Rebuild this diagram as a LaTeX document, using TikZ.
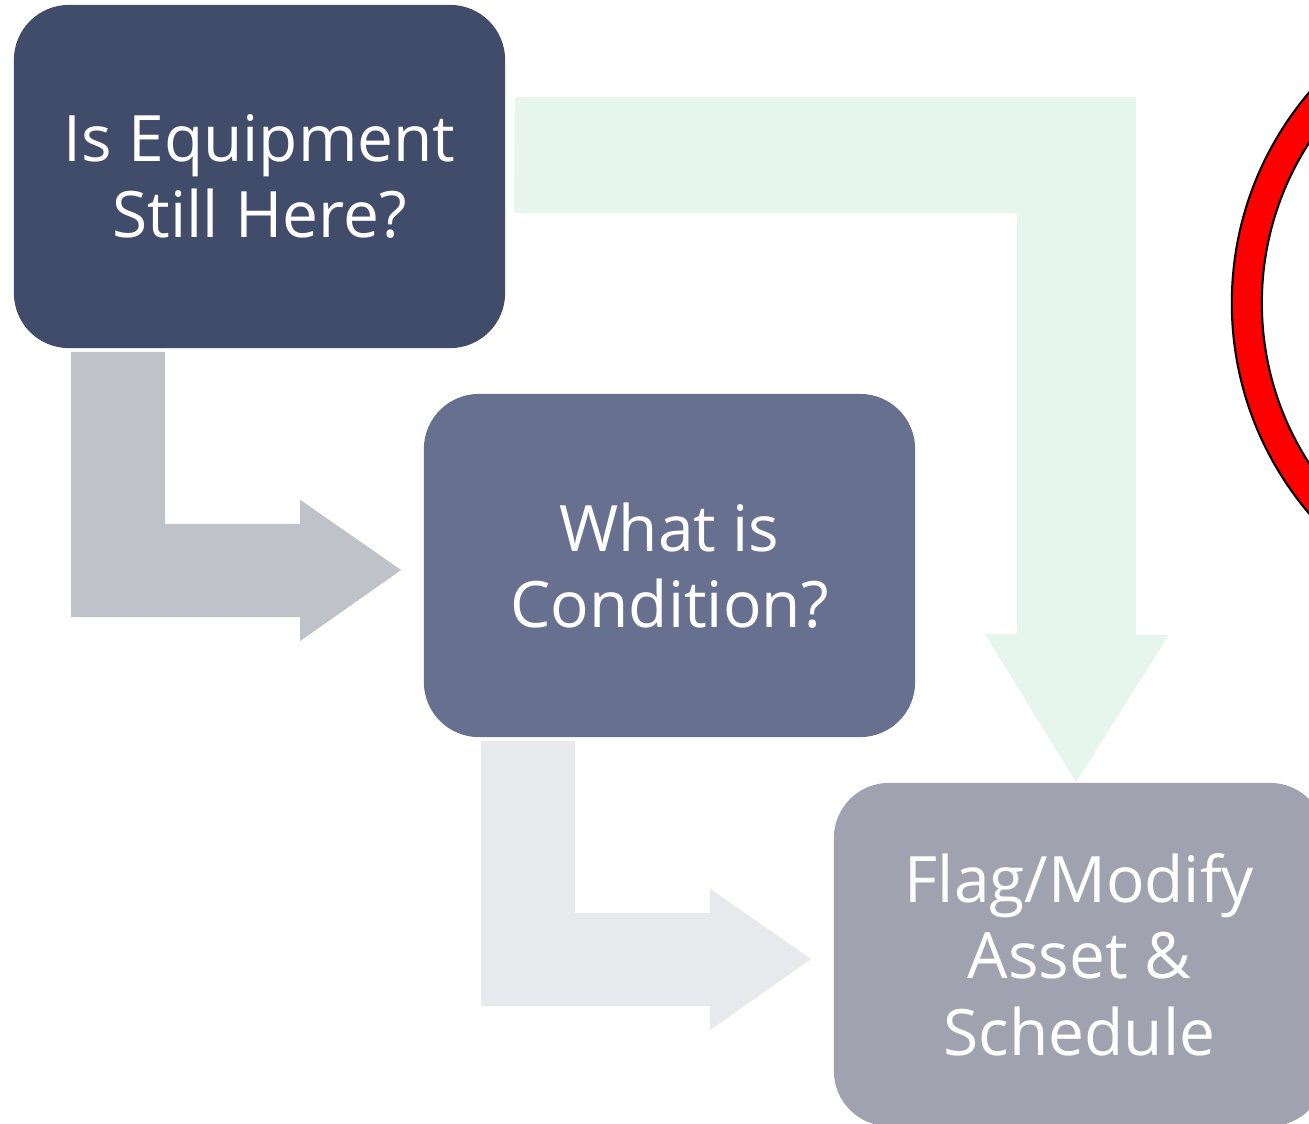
\documentclass[tikz,border=0pt]{standalone}
\usepackage{fontspec}
\setmainfont{Open Sans}
\usetikzlibrary{calc,positioning}
\definecolor{NavyDeep}{HTML}{414B6A}
\definecolor{NavyMid}{HTML}{67718F}
\definecolor{NavyPale}{HTML}{A0A3AF}
\definecolor{ArrowGrey}{HTML}{BFC2C8}
\definecolor{ArrowLight}{HTML}{E8E9EC}
\definecolor{ArrowMint}{HTML}{E6F6EF}
\definecolor{StopRed}{HTML}{FF0000}

\begin{document}
\begin{tikzpicture}[
    x=0.01cm, y=-0.01cm,
    qbox/.style={rounded corners=0.55cm, minimum width=4.91cm, minimum height=3.43cm, align=center, text=white, font=\fontsize{18.2}{21.8}\selectfont, inner sep=0pt},
    bent/.style={draw=none}
  ]
    \useasboundingbox (0,0) rectangle (1309,1123);
    \clip (0,0) rectangle (1309,1123);

    % the three steps
    \node[qbox, fill=NavyDeep] (q1) at (259.5,176.5) {Is Equipment\\Still Here?};
    \node[qbox, fill=NavyMid] (q2) at ($(q1)+(410,389)$) {What is\\Condition?};
    \node[qbox, fill=NavyPale] (q3) at ($(q2)+(410,389)$) {Flag/Modify\\Asset \&\\Schedule};

    % bent arrows between the steps
    \fill[bent, ArrowGrey] ($(q1.south west)+(58,3)$) -- ++(94,0) -- ++(0,172) -- ++(135,0)
      -- ++(0,-24) -- ($(q2.west)+(-22,4.5)$) -- ++(-101,71) -- ++(0,-24) -- ++(-229,0) -- cycle;
    \fill[bent, ArrowLight] ($(q2.south west)+(58,3)$) -- ++(94,0) -- ++(0,172) -- ++(135,0)
      -- ++(0,-24) -- ($(q3.west)+(-22,4.5)$) -- ++(-101,71) -- ++(0,-24) -- ++(-229,0) -- cycle;

    % shortcut: straight to the last step
    \fill[bent, ArrowMint] ($(q1.east)+(9,-79.5)$) -- ++(621,0) -- ++(0,538) -- ++(33,0)
      -- ($(q3.north)+(-3.5,0)$) -- ++(-91,-148) -- ++(32,0) -- ++(0,-421) -- ++(-503,0) -- cycle;

    % stop sign at the edge
    \coordinate (stop) at (1557,303);
    \fill[StopRed, draw=black, line width=0.6pt, even odd rule]
      (stop) circle (3.25cm) (stop) circle (2.95cm);
  \end{tikzpicture}
\end{document}
